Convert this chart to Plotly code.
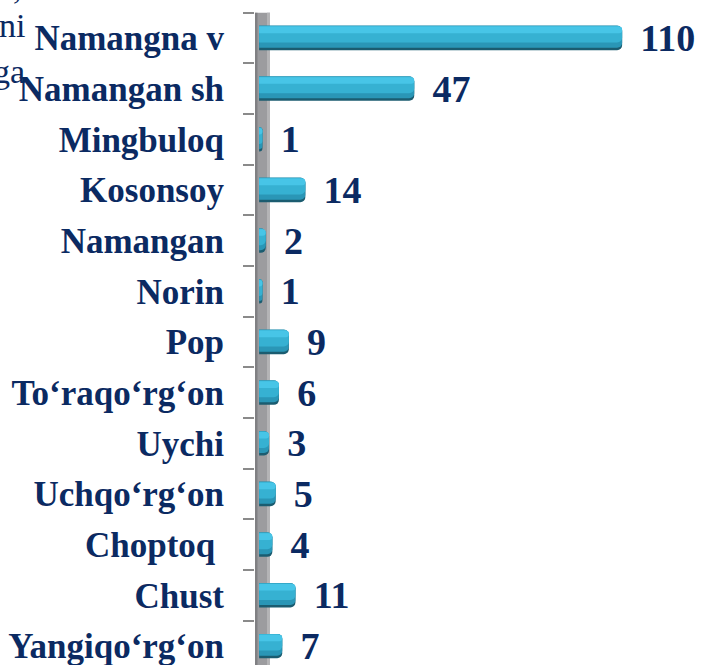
import plotly.graph_objects as go

categories = ["Namangna v", "Namangan sh", "Mingbuloq", "Kosonsoy", "Namangan", "Norin", "Pop",
              "To‘raqo‘rg‘on", "Uychi", "Uchqo‘rg‘on", "Choptoq ", "Chust", "Yangiqo‘rg‘on"]
values = [110, 47, 1, 14, 2, 1, 9, 6, 3, 5, 4, 11, 7]

NAVY = "#0b2a62"
W, H = 701, 665
left = 255
xmin = -1.25
px_per_unit = 3.3
xmax = xmin + (W - left) / px_per_unit
step = 50.67
ytop = -38 / step
ybot = ytop + H / step

fig = go.Figure()
# dark base (bottom edge)
fig.add_trace(go.Bar(y=categories, x=values, orientation="h", width=0.48,
                     marker=dict(color="#1b5c70", cornerradius=5, line=dict(width=0)),
                     text=[f"\u2009\u2009{v}" for v in values], textposition="outside",
                     cliponaxis=False, constraintext="none",
                     textfont=dict(family="Liberation Serif", size=38, color=NAVY, weight="bold"),
                     hoverinfo="skip"))
# lower shade
fig.add_trace(go.Bar(y=categories, x=values, orientation="h", width=0.43, offset=-0.24,
                     marker=dict(color="#2a96b6", cornerradius=5, line=dict(width=0)),
                     hoverinfo="skip"))
# main body
fig.add_trace(go.Bar(y=categories, x=values, orientation="h", width=0.33, offset=-0.24,
                     marker=dict(color="#36b1d2", cornerradius=5, line=dict(width=0)),
                     hoverinfo="skip"))
# highlight
fig.add_trace(go.Bar(y=categories, x=values, orientation="h", width=0.13, offset=-0.225,
                     marker=dict(color="#47c5e7", cornerradius=4, line=dict(width=0)),
                     hoverinfo="skip"))

# gray side wall
fig.add_shape(type="rect", xref="x", yref="y", x0=xmin, x1=xmin + 15 / px_per_unit, y0=-0.5, y1=ybot,
              fillcolor="#9c9c9f", line=dict(width=0), layer="below")
fig.add_shape(type="rect", xref="x", yref="y", x0=xmin, x1=xmin + 2.5 / px_per_unit, y0=-0.5, y1=ybot,
              fillcolor="#808083", line=dict(width=0), layer="below")
fig.add_shape(type="rect", xref="x", yref="y", x0=xmin + 12 / px_per_unit, x1=xmin + 15 / px_per_unit,
              y0=-0.5, y1=ybot, fillcolor="#b4b4b6", line=dict(width=0), layer="below")

# cropped title remnants
fig.add_annotation(text=",", xref="paper", yref="paper", x=(24 - left) / (W - left), y=1 + 33 / H,
                   xanchor="right", yanchor="top", showarrow=False,
                   font=dict(family="Liberation Serif", size=34, color=NAVY))
fig.add_annotation(text="ni", xref="paper", yref="paper", x=(27 - left) / (W - left), y=1 - 5 / H,
                   xanchor="right", yanchor="top", showarrow=False,
                   font=dict(family="Liberation Serif", size=34, color=NAVY))
fig.add_annotation(text="ga", xref="paper", yref="paper", x=(27 - left) / (W - left), y=1 - 51 / H,
                   xanchor="right", yanchor="top", showarrow=False,
                   font=dict(family="Liberation Serif", size=34, color=NAVY))

fig.update_layout(
    width=W, height=H,
    margin=dict(l=left, r=0, t=0, b=0, autoexpand=False),
    paper_bgcolor="white", plot_bgcolor="white",
    barmode="overlay", showlegend=False,
    xaxis=dict(range=[xmin, xmax], visible=False, showgrid=False, zeroline=False, automargin=False),
    yaxis=dict(range=[ybot, ytop], tickson="boundaries", ticks="outside", ticklen=11,
               tickwidth=2, tickcolor="#8a8a8a", showgrid=False, showline=False,
               automargin=False, ticklabelstandoff=30,
               tickfont=dict(family="Liberation Serif", size=35, color=NAVY, weight="bold")),
)

fig.write_html("out.html", config={"displayModeBar": False},
               post_script="document.body.style.margin='0';document.body.style.overflow='hidden';")
